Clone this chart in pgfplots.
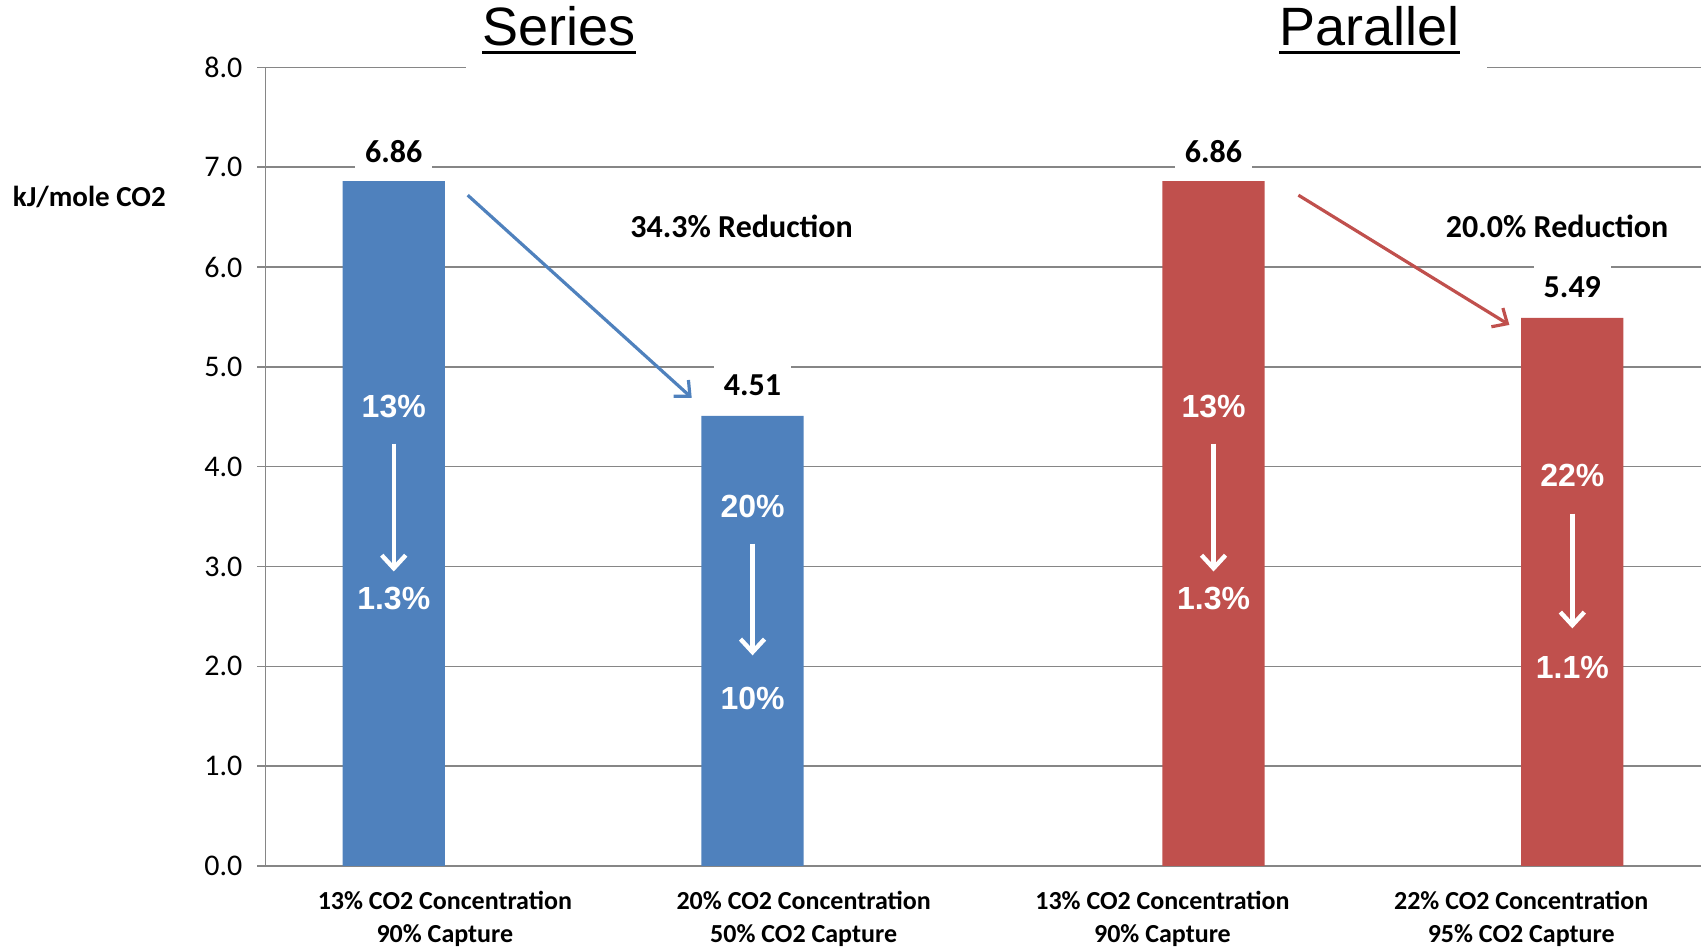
\documentclass[border=0pt]{standalone}
\usepackage{pgfplots}
\pgfplotsset{compat=1.18}
\usepackage{fontspec}
\setmainfont{Carlito}
\newfontfamily\arial{Liberation Sans}
\usetikzlibrary{arrows.meta}
\definecolor{barblue}{RGB}{79,129,189}
\definecolor{barred}{RGB}{192,80,77}
\definecolor{gridgray}{RGB}{134,134,134}
\begin{document}
\begin{tikzpicture}
\begin{axis}[
  at={(0,0)}, anchor=south west,
  scale only axis, width=717.6pt, height=399.3pt,
  xmin=-0.5, xmax=3.5, ymin=0, ymax=8,
  axis x line=bottom, axis y line=left,
  axis line style={gridgray, line width=0.8pt, -},
  xtick={0,1,2,3},
  xticklabels={13\% CO2 Concentration\\90\% Capture,20\% CO2 Concentration\\50\% CO2 Capture,13\% CO2 Concentration\\90\% Capture,22\% CO2 Concentration\\95\% CO2 Capture},
  xticklabel style={font=\fontsize{13}{16.5}\selectfont\bfseries, align=center, inner sep=0pt, yshift=-8.3pt},
  x tick style={draw=none},
  extra x ticks={-0.5,0.5,1.5,2.5,3.5},
  extra x tick labels={},
  extra x tick style={major tick length=8pt, tick align=outside, tick style={gridgray, line width=0.8pt}, grid=none},
  ytick={0,1,...,8},
  ymajorgrids,
  major grid style={gridgray, line width=0.8pt},
  y tick style={gridgray, line width=0.8pt},
  tick align=outside, major tick length=4pt,
  yticklabel style={font=\fontsize{15}{15}\selectfont, xshift=-4pt},
  /pgf/number format/assume math mode=true,
  /pgf/number format/fixed, /pgf/number format/fixed zerofill, /pgf/number format/precision=1,
  clip=false,
]
\addplot[ybar, bar width=0.285, bar shift=0, fill=barblue, draw=none] coordinates {(-0.1425,6.86) (0.8575,4.51)};
\addplot[ybar, bar width=0.285, bar shift=0, fill=barred, draw=none] coordinates {(2.1425,6.86) (3.1425,5.49)};

% white cover over top gridline
\fill[white] (axis cs:0.0576,7.9) rectangle (axis cs:2.906,8.1);

% titles
\node[font=\arial\fontsize{27}{27}\selectfont, anchor=base, inner sep=0pt] (ser) at (axis cs:0.318,8.218) {Series};
\draw[line width=1.6pt] ([yshift=-3.3pt]ser.base west) -- ([yshift=-3.3pt]ser.base east);
\node[font=\arial\fontsize{27}{27}\selectfont, anchor=base, inner sep=0pt] (par) at (axis cs:2.577,8.218) {Parallel};
\draw[line width=1.6pt] ([yshift=-3.3pt]par.base west) -- ([yshift=-3.3pt]par.base east);

% y label
\node[font=\fontsize{14.5}{14.5}\selectfont\bfseries] at (axis cs:-0.991,6.70) {kJ/mole CO2};

% value labels
\tikzset{vl/.style={font=\fontsize{16}{16}\selectfont\bfseries, fill=white, inner xsep=5pt, inner ysep=5.5pt}}
\node[vl] at (axis cs:-0.1425,7.16) {6.86};
\node[vl] at (axis cs:0.8575,4.82) {4.51};
\node[vl] at (axis cs:2.1425,7.16) {6.86};
\node[vl] at (axis cs:3.1425,5.80) {5.49};

% reductions
\node[font=\fontsize{16}{16}\selectfont\bfseries] at (axis cs:0.827,6.41) {34.3\% Reduction};
\node[font=\fontsize{16}{16}\selectfont\bfseries] at (axis cs:3.10,6.41) {20.0\% Reduction};
\draw[barblue, line width=1.6pt, -{Straight Barb[length=6pt,width=11pt]}] (axis cs:0.0636,6.72) -- (axis cs:0.688,4.69);
\draw[barred, line width=1.6pt, -{Straight Barb[length=6pt,width=11pt]}] (axis cs:2.379,6.72) -- (axis cs:2.967,5.42);

% in-bar annotations
\tikzset{wl/.style={font=\arial\bfseries\fontsize{16}{16}\selectfont, text=white},
         wa/.style={white, line width=2.2pt, -{Straight Barb[length=6.5pt,width=12pt]}}}
\node[wl] at (axis cs:-0.1425,4.60) {13\%};
\draw[wa] (axis cs:-0.1425,4.23) -- (axis cs:-0.1425,2.95);
\node[wl] at (axis cs:-0.1425,2.68) {1.3\%};
\node[wl] at (axis cs:0.8575,3.60) {20\%};
\draw[wa] (axis cs:0.8575,3.23) -- (axis cs:0.8575,2.11);
\node[wl] at (axis cs:0.8575,1.68) {10\%};
\node[wl] at (axis cs:2.1425,4.60) {13\%};
\draw[wa] (axis cs:2.1425,4.23) -- (axis cs:2.1425,2.95);
\node[wl] at (axis cs:2.1425,2.68) {1.3\%};
\node[wl] at (axis cs:3.1425,3.91) {22\%};
\draw[wa] (axis cs:3.1425,3.53) -- (axis cs:3.1425,2.38);
\node[wl] at (axis cs:3.1425,1.99) {1.1\%};
\end{axis}
\pgfresetboundingbox
\path (-132.75pt,-40.3pt) rectangle (720.3pt,433pt);
\end{tikzpicture}
\end{document}
